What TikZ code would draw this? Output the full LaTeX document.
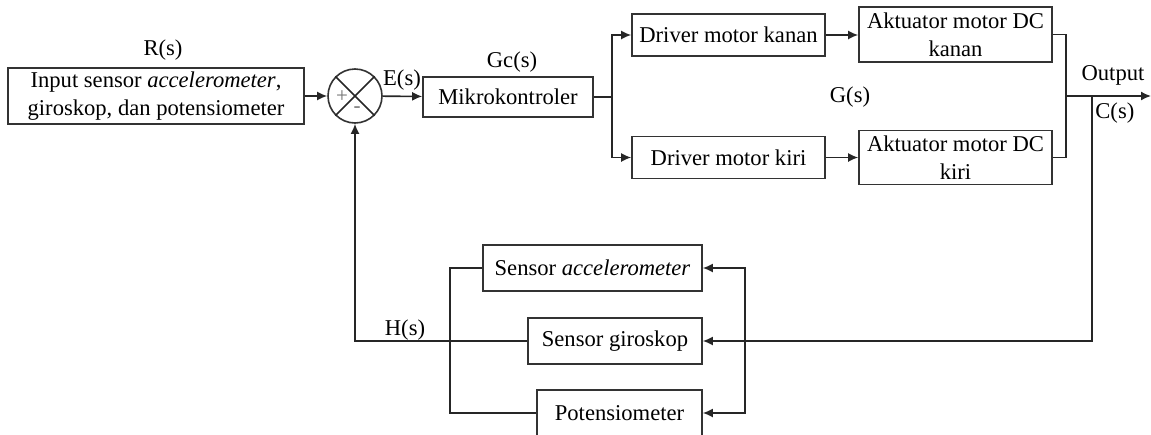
\documentclass[tikz,border=0pt]{standalone}
\usepackage{fontspec}
\setmainfont{Liberation Serif}
\usepackage{tikz}
\usetikzlibrary{arrows, arrows.meta, positioning, calc}
\tikzset{
  block/.style={rectangle,draw=black!80,line width=0.8pt,inner sep=0pt,align=center},
  sum/.style={circle,draw=black!80,line width=0.8pt,minimum size=27pt,inner sep=0pt},
  signal/.style={line width=0.8pt,-{Latex[length=5pt,width=4.5pt]},black!85},
  wire/.style={line width=0.8pt,black!85},
  lbl/.style={inner sep=0pt},
  sign/.style={inner sep=0pt,font=\fontsize{10.5}{11}\selectfont,text=black!55},
}

\begin{document}
\begin{tikzpicture}[x=0.5pt,y=-0.5pt,font=\fontsize{11.3}{14}\selectfont]
	    \useasboundingbox (0,0) rectangle (1151,434);
	    % forward path
	    \node[block,minimum width=148pt,minimum height=28pt] (input) at (156,96) {Input sensor \textit{accelerometer},\\giroskop, dan potensiometer};
	    \node[sum] (sum) at (355,96) {};
	    \draw[wire] (sum.north east) -- (sum.south west);
	    \draw[wire] (sum.north west) -- (sum.south east);
	    \node[sign] (plus) at (342,97) {+};
	    \node[sign] (minus) at (357,110) {-};
	    \node[block,minimum width=85pt,minimum height=20pt] (mikro) at (508,97) {Mikrokontroler};
	    \node[block,minimum width=96.5pt,minimum height=21pt] (drvR) at (728.5,35) {Driver motor kanan};
	    \node[block,minimum width=96.5pt,minimum height=21pt] (drvL) at (728.5,157.5) {Driver motor kiri};
	    \node[block,minimum width=96.5pt,minimum height=27.5pt] (aktR) at (955.5,34.5) {Aktuator motor DC\\kanan};
	    \node[block,minimum width=96.5pt,minimum height=27pt] (aktL) at (955.5,157.5) {Aktuator motor DC\\kiri};
	    % feedback path
	    \node[block,minimum width=109.5pt,minimum height=23pt] (acc) at (592.5,268) {Sensor \textit{accelerometer}};
	    \node[block,minimum width=87pt,minimum height=23pt] (giro) at (615,341) {Sensor giroskop};
	    \node[block,minimum width=82.5pt,minimum height=23pt] (pot) at (619.5,413) {Potensiometer};
	    % labels
	    \node[lbl] (Rs) at (163,50) {R(s)};
	    \node[lbl] (Es) at (402,80) {E(s)};
	    \node[lbl] (Gcs) at (512,62) {Gc(s)};
	    \node[lbl] (Gs) at (850,97) {G(s)};
	    \node[lbl] (outlbl) at (1113,75) {Output};
	    \node[lbl,anchor=west] (Cs) at (1095,113) {C(s)};
	    \node[lbl] (Hs) at (405,330) {H(s)};
	    % junctions
	    \coordinate (br) at (612,97);
	    \coordinate (jn) at (1066,96);
	    \coordinate (tap) at (1092,96);
	    \coordinate (out) at (1151,96);
	    \coordinate (rb) at (745,341);
	    \coordinate (lb) at (450,341);
	    % connections
	    \draw[signal] (input) -- (sum);
	    \draw[signal] (sum) -- (mikro);
	    \draw[wire] (mikro.east) -- (br);
	    \draw[signal] (br) |- (drvR.west);
	    \draw[signal] (br) |- (drvL.west);
	    \draw[signal] (drvR) -- (aktR.west |- drvR);
	    \draw[signal] (drvL) -- (aktL.west |- drvL);
	    \draw[wire] (aktR.east) -| (jn) |- (aktL.east);
	    \draw[signal] (jn) -- (out);
	    \draw[signal] (tap) |- (giro.east);
	    \draw[signal] (rb) |- (acc.east);
	    \draw[signal] (rb) |- (pot.east);
	    \draw[wire] (acc.west) -| (lb) |- (pot.west);
	    \draw[signal] (giro.west) -| (sum.south);
	\end{tikzpicture}
\end{document}
